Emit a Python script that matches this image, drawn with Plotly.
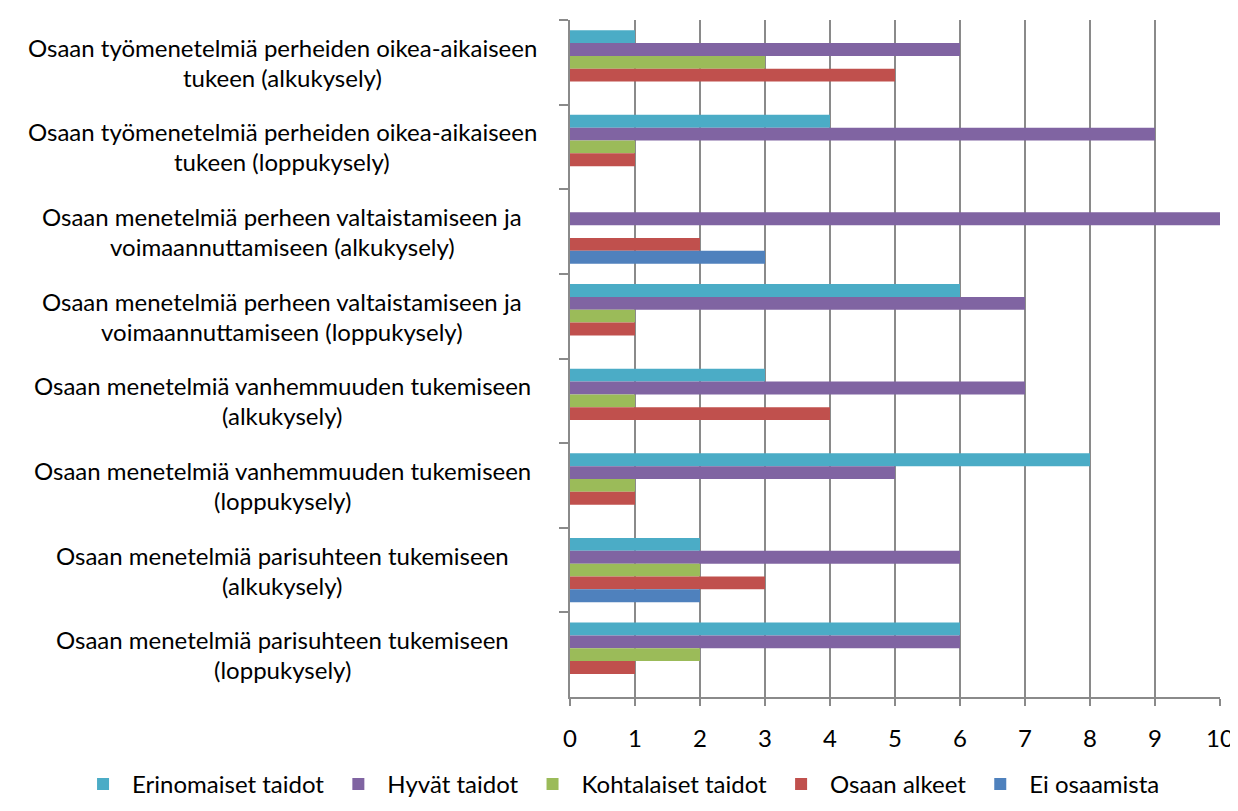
import plotly.graph_objects as go

categories = [
    "Osaan työmenetelmiä perheiden oikea-aikaiseen<br>tukeen (alkukysely)",
    "Osaan työmenetelmiä perheiden oikea-aikaiseen<br>tukeen (loppukysely)",
    "Osaan menetelmiä perheen valtaistamiseen ja<br>voimaannuttamiseen (alkukysely)",
    "Osaan menetelmiä perheen valtaistamiseen ja<br>voimaannuttamiseen (loppukysely)",
    "Osaan menetelmiä vanhemmuuden tukemiseen<br>(alkukysely)",
    "Osaan menetelmiä vanhemmuuden tukemiseen<br>(loppukysely)",
    "Osaan menetelmiä parisuhteen tukemiseen<br>(alkukysely)",
    "Osaan menetelmiä parisuhteen tukemiseen<br>(loppukysely)",
]

series_names = ["Erinomaiset taidot", "Hyvät taidot", "Kohtalaiset taidot", "Osaan alkeet", "Ei osaamista"]
erinomaiset = [1, 4, 0, 6, 3, 8, 2, 6]
hyvat = [6, 9, 10, 7, 7, 5, 6, 6]
kohtalaiset = [3, 1, 0, 1, 1, 1, 2, 2]
alkeet = [5, 1, 2, 1, 4, 1, 3, 1]
ei_osaamista = [0, 0, 3, 0, 0, 0, 2, 0]
series_values = [erinomaiset, hyvat, kohtalaiset, alkeet, ei_osaamista]
colors = ["#4BACC6", "#8064A2", "#9BBB59", "#C0504D", "#4F81BD"]
x_ticks = list(range(0, 11))

FONT = "Lato"
FS = 24
GRID = "#8a8a8a"

fig = go.Figure()
for name, vals, col in zip(series_names, series_values, colors):
    fig.add_trace(go.Bar(
        y=categories, x=vals, name=name, orientation="h",
        marker=dict(color=col, line=dict(width=0)),
    ))

# category labels (centered, two lines)
for cat in categories:
    lines = cat.split("<br>")
    n = len(lines)
    for i, ln in enumerate(lines):
        fig.add_annotation(
            x=-0.443, xref="paper", y=cat, yref="y",
            text=ln, showarrow=False, xanchor="center", yanchor="middle",
            yshift=(n - 1) * 15 - i * 30,
            font=dict(family=FONT, size=FS, color="#000000"),
        )

fig.update_layout(
    width=1238, height=811,
    margin=dict(l=562, r=21, t=12, b=102),
    paper_bgcolor="white", plot_bgcolor="white",
    barmode="group", bargap=0.24, bargroupgap=0,
    font=dict(family=FONT, size=FS, color="#000000"),
    showlegend=True,
    legend=dict(
        orientation="h", xref="paper", yref="paper",
        x=-0.763, xanchor="left", y=-0.129, yanchor="middle",
        font=dict(family=FONT, size=FS, color="#000000"),
        itemwidth=48, bgcolor="rgba(0,0,0,0)",
    ),
)
fig.update_xaxes(
    range=[0, 10], tickvals=x_ticks, ticktext=[str(v) for v in x_ticks],
    showgrid=True, gridcolor=GRID, gridwidth=2,
    showline=True, linecolor=GRID, linewidth=2,
    ticks="outside", ticklen=7, tickcolor=GRID, tickwidth=2,
    zeroline=False, ticklabelstandoff=12,
    tickfont=dict(family=FONT, size=FS, color="#000000"),
)
fig.update_yaxes(
    type="category", autorange="reversed",
    showticklabels=False, showgrid=False,
    showline=True, linecolor=GRID, linewidth=2,
    ticks="outside", tickson="boundaries", ticklen=9, tickcolor=GRID, tickwidth=2,
)

fig.write_html("out.html")
